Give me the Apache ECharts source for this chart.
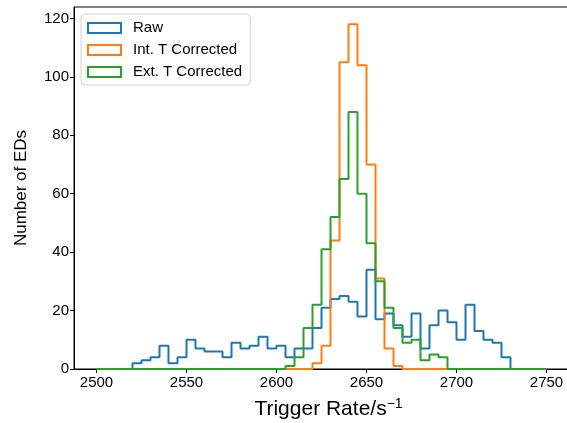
<!DOCTYPE html>
<html>
<head>
    <meta charset="utf-8">
    <title>histogram</title>
    <script src="https://cdn.jsdelivr.net/npm/echarts@6/dist/echarts.min.js"></script>
</head>
<body style="margin:0">
    <div id="main" style="width: 567px;height:423px;"></div>
    <script type="text/javascript">
    // bins: 2500 .. 2750, 5 wide
    var binStart = 2500;
    var binWidth = 5;
    var raw = [0, 0, 0, 0, 2, 3, 4, 8, 2, 4, 10, 7, 6, 6, 4, 9, 7, 8, 11, 7,
               8, 4, 7, 7, 14, 21, 24, 25, 23, 18, 34, 17, 19, 15, 11, 19, 7, 15, 20, 16,
               10, 22, 13, 10, 9, 4, 0, 0, 0, 0];
    var intCorr = [0, 0, 0, 0, 0, 0, 0, 0, 0, 0, 0, 0, 0, 0, 0, 0, 0, 0, 0, 0,
                   0, 0, 0, 0, 2, 8, 44, 105, 118, 104, 70, 31, 7, 1, 0, 0, 0, 0, 0, 0,
                   0, 0, 0, 0, 0, 0, 0, 0, 0, 0];
    var extCorr = [0, 0, 0, 0, 0, 0, 0, 0, 0, 0, 0, 0, 0, 0, 0, 0, 0, 0, 0, 0,
                   0, 1, 4, 14, 22, 41, 52, 65, 88, 60, 43, 30, 21, 14, 9, 10, 3, 5, 4, 0,
                   0, 0, 0, 0, 0, 0, 0, 0, 0, 0];
    var seriesNames = ['Raw', 'Int. T Corrected', 'Ext. T Corrected'];
    var colors = ['#1f77b4', '#ff7f0e', '#2ca02c'];
    var xTicks = [2500, 2550, 2600, 2650, 2700, 2750];
    var yTicks = [0, 20, 40, 60, 80, 100, 120];

    // outline of a step histogram
    function stepPoints(counts) {
        var pts = [[binStart, 0]];
        counts.forEach(function (v, i) {
            pts.push([binStart + i * binWidth, v]);
            pts.push([binStart + (i + 1) * binWidth, v]);
        });
        pts.push([binStart + counts.length * binWidth, 0]);
        return pts;
    }

    var font = '"Liberation Sans", Arial, sans-serif';
    var myChart = echarts.init(document.getElementById('main'));
    var allData = [raw, intCorr, extCorr];

    var option = {
        animation: false,
        grid: {
            left: 74, top: 7, width: 495, height: 362,
            outerBoundsMode: 'none', containLabel: false,
            show: true, borderColor: '#000', borderWidth: 1
        },
        legend: {
            left: 81, top: 14, orient: 'vertical',
            itemWidth: 33, itemHeight: 10, itemGap: 6,
            padding: [6, 8, 5, 6],
            backgroundColor: 'rgba(255,255,255,0.8)',
            borderColor: '#d0d0d0', borderWidth: 1, borderRadius: 4,
            textStyle: { fontFamily: font, fontSize: 15, color: '#000', lineHeight: 16, padding: [0, 0, 0, 7] },
            data: seriesNames.map(function (n, i) {
                return {
                    name: n, icon: 'rect',
                    itemStyle: { color: '#fff', borderColor: colors[i], borderWidth: 2 }
                };
            })
        },
        xAxis: {
            type: 'value', min: 2487.5, max: 2762.5,
            name: 'Trigger Rate/s{sup|\u22121}',
            nameLocation: 'middle', nameGap: 28,
            nameTextStyle: {
                fontFamily: font, fontSize: 21, color: '#000', padding: [0, 0, 0, 14],
                rich: { sup: { fontFamily: font, fontSize: 14, color: '#000', padding: [0, 0, 11, 0] } }
            },
            splitLine: { show: false },
            axisLine: { onZero: false, lineStyle: { color: '#000', width: 1 } },
            axisTick: { length: 4, lineStyle: { color: '#000' }, customValues: xTicks },
            axisLabel: {
                fontFamily: font, fontSize: 15, color: '#000', margin: 6, customValues: xTicks,
                formatter: function (v) { return String(v); }
            }
        },
        yAxis: {
            type: 'value', min: 0, max: 123.9,
            name: 'Number of EDs',
            nameLocation: 'middle', nameGap: 44,
            nameTextStyle: { fontFamily: font, fontSize: 17, color: '#000' },
            splitLine: { show: false },
            axisLine: { show: true, lineStyle: { color: '#000', width: 1 } },
            axisTick: { show: true, length: 4, lineStyle: { color: '#000' }, customValues: yTicks },
            axisLabel: { fontFamily: font, fontSize: 15, color: '#000', margin: 5, customValues: yTicks }
        },
        series: seriesNames.map(function (n, i) {
            return {
                name: n, type: 'line', showSymbol: false, symbol: 'none',
                data: stepPoints(allData[i]),
                itemStyle: { color: colors[i] },
                lineStyle: { color: colors[i], width: 2 },
                z: 2 + i
            };
        })
    };
    myChart.setOption(option);
    </script>
</body>
</html>
